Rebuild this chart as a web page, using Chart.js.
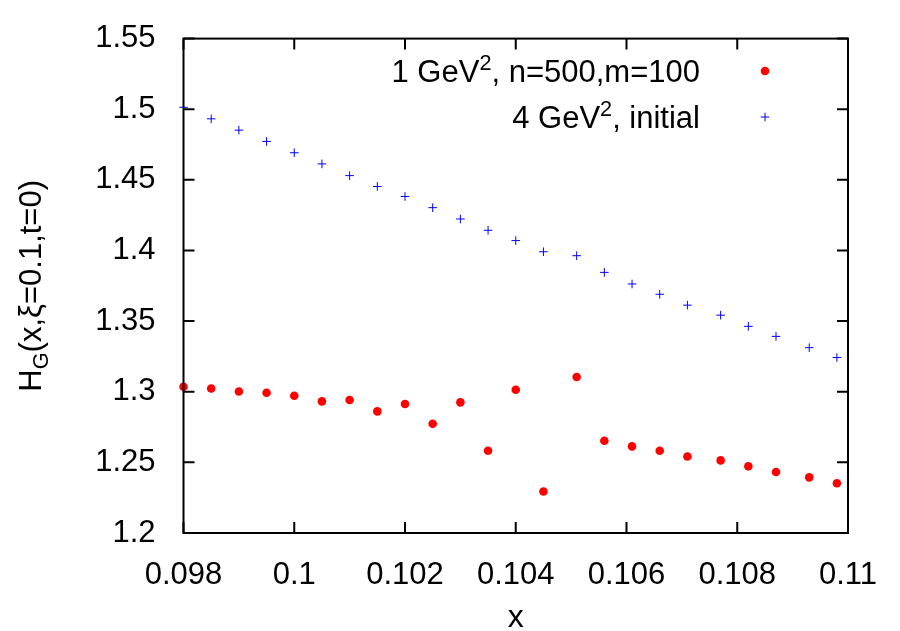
<!DOCTYPE html>
<html>
<head>
  <meta charset="UTF-8">
  <title>H_G(x, xi=0.1, t=0)</title>
  <script src="https://cdn.jsdelivr.net/npm/chart.js"></script>
  <style>
    html, body { margin: 0; padding: 0; background: #fff; }
    #wrap { width: 900px; height: 631px; }
  </style>
</head>
<body>
<div id="wrap"><canvas id="chart" width="900" height="631"></canvas></div>
<script>
  // x positions (shared by both series)
  const xVals = [0.098, 0.0985, 0.099, 0.0995, 0.1, 0.1005, 0.101, 0.1015, 0.102, 0.1025, 0.103, 0.1035,
                 0.104, 0.1045, 0.1051, 0.1056, 0.1061, 0.1066, 0.1071, 0.1077, 0.1082, 0.1087, 0.1093, 0.1098];
  // 1 GeV^2, n=500, m=100
  const evolved = [1.3035, 1.3023, 1.3002, 1.2993, 1.2972, 1.2932, 1.2942, 1.2861, 1.2913, 1.2773, 1.2925, 1.2582,
                   1.3014, 1.2294, 1.3104, 1.2653, 1.2613, 1.2582, 1.2542, 1.2514, 1.2472, 1.2432, 1.2394, 1.2352];
  // 4 GeV^2, initial
  const initial = [1.5014, 1.4932, 1.4852, 1.4772, 1.4692, 1.4613, 1.4530, 1.4453, 1.4382, 1.4303, 1.4223, 1.4143,
                   1.4070, 1.3991, 1.3963, 1.3845, 1.3763, 1.3690, 1.3613, 1.3542, 1.3463, 1.3392, 1.3312, 1.3242];
  const xRange = [0.098, 0.11];
  const yRange = [1.2, 1.55];

  const FONT = '"Liberation Sans", Arial, sans-serif';

  // draw text with superscript/subscript parts, starting at x
  function drawParts(ctx, parts, x, y, size) {
    parts.forEach(p => {
      const s = p.sup || p.sub ? size * 0.7 : size;
      ctx.font = s + 'px ' + FONT;
      const dy = p.sup ? -size * 0.38 : (p.sub ? size * 0.22 : 0);
      ctx.fillText(p.t, x, y + dy);
      x += ctx.measureText(p.t).width;
    });
  }
  function partsWidth(ctx, parts, size) {
    let w = 0;
    parts.forEach(p => {
      ctx.font = (p.sup || p.sub ? size * 0.7 : size) + 'px ' + FONT;
      w += ctx.measureText(p.t).width;
    });
    return w;
  }

  // frame, inward ticks on all sides, axis titles and the key
  const gnuplotLook = {
    id: 'gnuplotLook',
    afterDatasetsDraw(chart) {
      const { ctx, chartArea: a, scales: { x, y } } = chart;
      ctx.save();
      ctx.strokeStyle = '#000';
      ctx.lineWidth = 2;
      ctx.strokeRect(a.left, a.top, a.right - a.left, a.bottom - a.top);
      ctx.beginPath();
      x.ticks.forEach(t => {
        const px = x.getPixelForValue(t.value);
        ctx.moveTo(px, a.bottom); ctx.lineTo(px, a.bottom - 11);
        ctx.moveTo(px, a.top); ctx.lineTo(px, a.top + 11);
      });
      y.ticks.forEach(t => {
        const py = y.getPixelForValue(t.value);
        ctx.moveTo(a.left, py); ctx.lineTo(a.left + 11, py);
        ctx.moveTo(a.right, py); ctx.lineTo(a.right - 11, py);
      });
      ctx.stroke();

      ctx.fillStyle = '#000';
      ctx.textBaseline = 'alphabetic';
      // x title
      ctx.font = '32px ' + FONT;
      ctx.textAlign = 'center';
      ctx.fillText('x', (a.left + a.right) / 2, 627);
      // y title
      ctx.textAlign = 'left';
      const yParts = [{ t: 'H' }, { t: 'G', sub: true }, { t: '(x,ξ=0.1,t=0)' }];
      ctx.save();
      ctx.translate(41, (a.top + a.bottom) / 2);
      ctx.rotate(-Math.PI / 2);
      drawParts(ctx, yParts, -partsWidth(ctx, yParts, 31) / 2, 0, 31);
      ctx.restore();

      // key
      const keys = [
        { parts: [{ t: '1 GeV' }, { t: '2', sup: true }, { t: ', n=500,m=100' }], ds: 0, y: 82 },
        { parts: [{ t: '4 GeV' }, { t: '2', sup: true }, { t: ', initial' }], ds: 1, y: 128 }
      ];
      keys.forEach(k => {
        const w = partsWidth(ctx, k.parts, 31);
        ctx.fillStyle = '#000';
        drawParts(ctx, k.parts, 700 - w, k.y, 31);
        const d = chart.data.datasets[k.ds];
        ctx.fillStyle = d.backgroundColor;
        ctx.strokeStyle = d.borderColor;
        ctx.lineWidth = d.borderWidth;
        Chart.helpers.drawPoint(ctx, {
          pointStyle: d.pointStyle, radius: d.pointRadius, rotation: 0, borderWidth: d.borderWidth
        }, 765, k.y - 11);
      });
      ctx.restore();
    }
  };

  const trim = (v, d) => String(Number(v.toFixed(d)));

  new Chart(document.getElementById('chart'), {
    type: 'scatter',
    data: {
      datasets: [
        {
          label: '1 GeV², n=500,m=100',
          data: xVals.map((x, i) => ({ x, y: evolved[i] })),
          pointStyle: 'circle',
          pointRadius: 4.3,
          backgroundColor: '#ff0000',
          borderColor: '#ff0000',
          borderWidth: 0,
          clip: false
        },
        {
          label: '4 GeV², initial',
          data: xVals.map((x, i) => ({ x, y: initial[i] })),
          pointStyle: 'cross',
          pointRadius: 4.3,
          backgroundColor: '#0000ff',
          borderColor: '#0000ff',
          borderWidth: 1,
          clip: false
        }
      ]
    },
    options: {
      responsive: false,
      animation: false,
      events: [],
      layout: { padding: { top: 36, right: 52, left: 0, bottom: 0 } },
      plugins: { legend: { display: false }, tooltip: { enabled: false } },
      scales: {
        x: {
          type: 'linear',
          min: xRange[0], max: xRange[1],
          grid: { display: false },
          border: { display: false },
          afterFit: s => { s.height = 98; },
          ticks: {
            stepSize: 0.002,
            maxRotation: 0,
            padding: 16,
            color: '#000',
            font: { family: FONT, size: 31 },
            callback: v => trim(v, 3)
          }
        },
        y: {
          min: yRange[0], max: yRange[1],
          grid: { display: false },
          border: { display: false },
          afterFit: s => { s.width = 183.5; },
          ticks: {
            stepSize: 0.05,
            padding: 20,
            color: '#000',
            font: { family: FONT, size: 31 },
            callback: v => trim(v, 2)
          }
        }
      }
    },
    plugins: [gnuplotLook]
  });
</script>
</body>
</html>
